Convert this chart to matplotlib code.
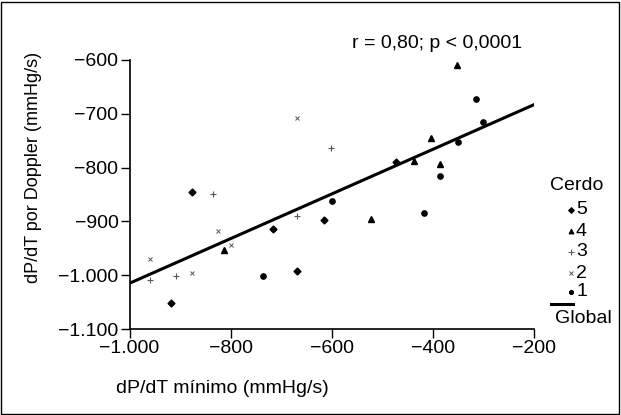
import matplotlib.pyplot as plt
from matplotlib.lines import Line2D
from matplotlib.patches import Rectangle
from matplotlib.ticker import FuncFormatter

plt.rcParams['font.family'] = ['Liberation Sans', 'DejaVu Sans']

# cerdo 5 (diamantes)
c5_x = [-876, -917, -717, -668, -616, -472]
c5_y = [-846, -1052, -915, -992, -897, -789]
# cerdo 4 (triangulos)
c4_x = [-353, -403, -437, -385, -523, -813]
c4_y = [-609, -745, -788, -793, -895, -953]
# cerdo 3 (+)
c3_x = [-601, -834, -668, -959, -908]
c3_y = [-763, -850, -890, -1009, -1001]
# cerdo 2 (x)
c2_x = [-669, -959, -824, -800, -877]
c2_y = [-707, -969, -918, -944, -995]
# cerdo 1 (circulos)
c1_x = [-736, -599, -418, -386, -314, -300, -350]
c1_y = [-1001, -863, -885, -815, -672, -715, -752]
# recta global
global_x = [-1000, -200]
global_y = [-1015, -683]

x_ticks = [-1000, -800, -600, -400, -200]
y_ticks = [-1100, -1000, -900, -800, -700, -600]

FS = 14


def fmt(v, pos):
    s = f"{abs(int(v)):,}".replace(",", ".")
    return ("\u2212" if v < 0 else "") + s


def fx(px):
    return px / 621


def fy(py):
    return 1 - py / 415


fig = plt.figure(figsize=(6.21, 4.15), dpi=100)
ax = fig.add_axes([fx(129.5), fy(329), (534 - 129.5) / 621, (329 - 60) / 415])

ax.plot(c5_x, c5_y, 'D', color='black', ms=3.5, clip_on=False)
ax.plot(c4_x, c4_y, '^', color='black', ms=4.5, clip_on=False)
ax.plot(c3_x, c3_y, '+', color='#555555', ms=5, mew=0.8, clip_on=False)
ax.plot(c2_x, c2_y, 'x', color='#555555', ms=3.5, mew=0.7, clip_on=False)
ax.plot(c1_x, c1_y, 'o', color='black', ms=3.8, clip_on=False)
ax.plot(global_x, global_y, color='black', lw=2.2)

ax.set_xlim(-1000, -200)
ax.set_ylim(-1100, -600)
ax.set_xticks(x_ticks)
ax.set_yticks(y_ticks)
ax.xaxis.set_major_formatter(FuncFormatter(fmt))
ax.yaxis.set_major_formatter(FuncFormatter(fmt))
ax.tick_params(direction='out', length=6.5, width=1, labelsize=FS, pad=1.5)
for s in ['top', 'right']:
    ax.spines[s].set_visible(False)
for s in ['left', 'bottom']:
    ax.spines[s].set_linewidth(1.2)

fig.text(fx(34), fy(167), 'dP/dT por Doppler (mmHg/s)', fontsize=13,
         rotation=90, ha='center', va='center')
fig.text(fx(222), fy(388), 'dP/dT mínimo (mmHg/s)', fontsize=FS,
         ha='center', va='center')
fig.text(fx(437), fy(43), 'r = 0,80; p < 0,0001', fontsize=FS,
         ha='center', va='center')

# leyenda
fig.text(fx(577), fy(185), 'Cerdo', fontsize=FS, ha='center', va='center')
leg = [('5', 'D', 'black', 3, 210), ('4', '^', 'black', 3.5, 231),
       ('3', '+', '#555555', 4, 252), ('2', 'x', '#555555', 3, 273),
       ('1', 'o', 'black', 3, 292)]
for lab, m, c, ms, py in leg:
    fig.add_artist(Line2D([fx(571)], [fy(py)], marker=m, color=c, ms=ms,
                          mew=0.7, transform=fig.transFigure))
    fig.text(fx(576), fy(py), lab, fontsize=FS, ha='left', va='center')
fig.add_artist(Line2D([fx(551), fx(573)], [fy(304), fy(304)], color='black',
                      lw=2.2, transform=fig.transFigure))
fig.text(fx(583), fy(318), 'Global', fontsize=FS, ha='center', va='center')

fig.add_artist(Rectangle((0.002, 0.003), 0.995, 0.993, fill=False,
                         edgecolor='black', lw=1, transform=fig.transFigure))

fig.savefig('out.png', dpi=100)
